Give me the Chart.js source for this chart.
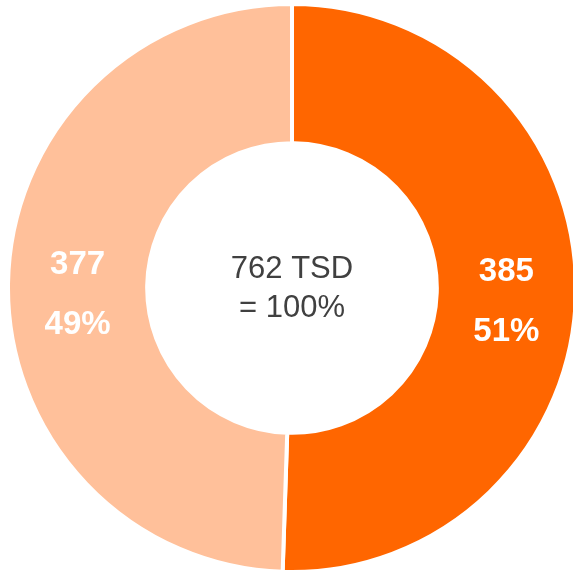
<!DOCTYPE html>
<html>
<head>
<meta charset="utf-8">
<script src="https://cdn.jsdelivr.net/npm/chart.js@4/dist/chart.umd.min.js"></script>
<style>
  html, body { margin: 0; padding: 0; background: #fff; overflow: hidden; }
  body { width: 573px; height: 570px; position: relative; }
  #wrap { position: absolute; left: 6px; top: 2px; width: 572px; height: 572px; }
</style>
</head>
<body>
<div id="wrap"><canvas id="donut" width="572" height="572"></canvas></div>
<script>
// Segment data (clockwise from 12 o'clock)
const labels = ['A', 'B'];
const values = [385, 377];
const sliceColors = ['#FF6600', '#FFC09A'];
const unit = 'TSD';

const total = values.reduce((a, b) => a + b, 0);

// Labels drawn inside each slice + text in the hole
const labelPlugin = {
    id: 'sliceLabels',
    afterDatasetsDraw: function(chart) {
        const ctx = chart.ctx;
        const meta = chart.getDatasetMeta(0);
        ctx.save();
        ctx.textAlign = 'center';
        ctx.textBaseline = 'middle';
        ctx.fillStyle = '#ffffff';
        ctx.font = 'bold 33px "Liberation Sans", Arial, sans-serif';
        meta.data.forEach(function(arc, i) {
            const p = arc.tooltipPosition();
            const pct = Math.round(values[i] / total * 100);
            ctx.fillText(String(values[i]), p.x, p.y - 20);
            ctx.fillText(pct + '%', p.x, p.y + 40);
        });

        // center text
        const cx = meta.data[0].x;
        const cy = meta.data[0].y;
        ctx.fillStyle = '#404040';
        ctx.font = '31px "Liberation Sans", Arial, sans-serif';
        ctx.fillText(total + ' ' + unit, cx, cy - 19);
        ctx.fillText('= 100%', cx, cy + 20);
        ctx.restore();
    }
};

new Chart(document.getElementById('donut'), {
    type: 'doughnut',
    data: {
        labels: labels,
        datasets: [{
            data: values,
            backgroundColor: sliceColors,
            borderColor: '#ffffff',
            borderWidth: 4
        }]
    },
    options: {
        responsive: false,
        animation: false,
        cutout: '51%',
        layout: { padding: 0 },
        plugins: {
            legend: { display: false },
            tooltip: { enabled: false }
        }
    },
    plugins: [labelPlugin]
});
</script>
</body>
</html>
